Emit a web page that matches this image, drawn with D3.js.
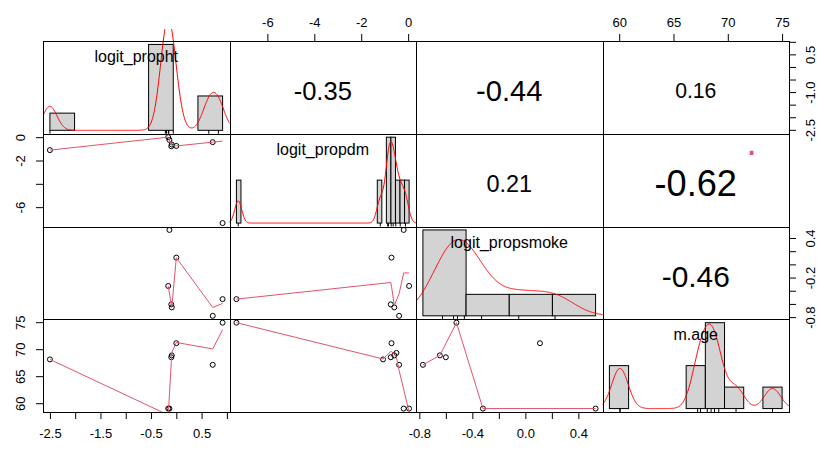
<!DOCTYPE html>
<html>
<head>
<meta charset="utf-8">
<title>Correlation chart</title>
<script src="https://d3js.org/d3.v7.min.js"></script>
<style>
    body { margin: 0; background-color: #fff; }
    svg text { font-family: "Liberation Sans", Arial, sans-serif; fill: #000; }
</style>
</head>
<body>
<svg width="817" height="450"></svg>
<script>
    // one entry per observation, null = missing
    var varNames = ["logit_propht", "logit_propdm", "logit_propsmoke", "m.age"];
    var propht    = [0.915, 0.0, -0.16, -0.137, -2.5, 0.72, -0.09, -0.10, null, null];
    var propdm    = [-7.32, -0.71, 0.04, -0.19, -1.07, -0.385, -0.59, -0.74, -0.50, null];
    var propsmoke = [-0.52, 0.11, -0.32, 0.53, null, -0.773, -0.645, -0.60, null, null];
    var mage      = [75.0, 71.2, 59.1, 59.1, 68.2, 67.2, 68.95, 68.6, 69.4, 67.5];

    // histogram breaks: start, end, step
    var breaksPropht = [-2.5, 1.0, 0.5];
    var breaksPropdm = [-7.4, 0.2, 0.2];
    var breaksPropsmoke = [-1.0, 1.0, 0.5];
    var breaksMage = [58, 76, 2];

    // correlations printed in the upper panels (row, col) and their p-value symbol
    var corPairs = [[0, 1], [0, 2], [0, 3], [1, 2], [1, 3], [2, 3]];
    var corValues = [-0.35, -0.44, 0.16, 0.21, -0.62, -0.46];
    var corSignif = ["", "", "", "", ".", ""];

    // axis ticks and which of them carry a label
    var tickVals = [[-2.5, -2, -1.5, -1, -0.5, 0, 0.5, 1], [-6, -4, -2, 0], [-0.8, -0.6, -0.4, -0.2, 0, 0.2, 0.4], [60, 65, 70, 75]];
    var xTickLabels = [[-2.5, -1.5, -0.5, 0.5], [-6, -4, -2, 0], [-0.8, -0.4, 0, 0.4], [60, 65, 70, 75]];
    var yTickLabels = [[-2.5, -1, 0.5], [-6, -2, 0], [-0.8, -0.2, 0.4], [60, 65, 70, 75]];
    var tickFormats = [".1f", "d", ".1f", "d"];

    var columns = [propht, propdm, propsmoke, mage];
    var breakSpecs = [breaksPropht, breaksPropdm, breaksPropsmoke, breaksMage];

    var svg = d3.select("svg");
    var x0 = 43, y0 = 41, pw = 186.5, ph = 92.75, nv = 4;

    function colX(j) { return x0 + j * pw; }
    function rowY(i) { return y0 + i * ph; }
    function clean(v) { return v.filter(function (d) { return d !== null; }); }
    function padded(ext) { var r = ext[1] - ext[0]; return [ext[0] - 0.04 * r, ext[1] + 0.04 * r]; }

    var xs = columns.map(function (c, j) {
        return d3.scaleLinear().domain(padded(d3.extent(clean(c)))).range([colX(j), colX(j + 1)]);
    });
    var ys = columns.map(function (c, i) {
        return d3.scaleLinear().domain(padded(d3.extent(clean(c)))).range([rowY(i + 1), rowY(i)]);
    });

    // R's lowess (clowess)
    function lowess(xIn, yIn, f, nsteps) {
        var idx = d3.range(xIn.length).sort(function (a, b) { return xIn[a] - xIn[b] || a - b; });
        var x = idx.map(function (i) { return xIn[i]; }), y = idx.map(function (i) { return yIn[i]; });
        var n = x.length, delta = 0.01 * (x[n - 1] - x[0]);
        var fit = new Array(n).fill(0), rw = new Array(n).fill(1), res = new Array(n).fill(0), w = new Array(n).fill(0);
        var ns = Math.max(2, Math.min(n, Math.floor(f * n + 1e-7)));

        function lowest(xv, nleft, nright, userw) {
            var range = x[n - 1] - x[0];
            var h = Math.max(xv - x[nleft], x[nright] - xv), h9 = 0.999 * h, h1 = 0.001 * h;
            var a = 0, j = nleft;
            while (j < n) {
                w[j] = 0;
                var r = Math.abs(x[j] - xv);
                if (r <= h9) {
                    w[j] = r <= h1 ? 1 : Math.pow(1 - Math.pow(r / h, 3), 3);
                    if (userw) w[j] *= rw[j];
                    a += w[j];
                } else if (x[j] > xv) break;
                j++;
            }
            var nrt = j - 1;
            if (a <= 0) return null;
            for (j = nleft; j <= nrt; j++) w[j] /= a;
            if (h > 0) {
                a = 0;
                for (j = nleft; j <= nrt; j++) a += w[j] * x[j];
                var b = xv - a, c = 0;
                for (j = nleft; j <= nrt; j++) c += w[j] * (x[j] - a) * (x[j] - a);
                if (Math.sqrt(c) > 0.001 * range) {
                    b /= c;
                    for (j = nleft; j <= nrt; j++) w[j] *= (b * (x[j] - a) + 1);
                }
            }
            var out = 0;
            for (j = nleft; j <= nrt; j++) out += w[j] * y[j];
            return out;
        }

        for (var iter = 1; iter <= nsteps + 1; iter++) {
            var nleft = 0, nright = ns - 1, last = -1, i = 0;
            for (;;) {
                if (nright < n - 1) {
                    var d1 = x[i] - x[nleft], d2 = x[nright + 1] - x[i];
                    if (d1 > d2) { nleft++; nright++; continue; }
                }
                var v = lowest(x[i], nleft, nright, iter > 1);
                fit[i] = v === null ? y[i] : v;
                if (last < i - 1) {
                    var denom = x[i] - x[last];
                    for (var j = last + 1; j < i; j++) {
                        var alpha = (x[j] - x[last]) / denom;
                        fit[j] = alpha * fit[i] + (1 - alpha) * fit[last];
                    }
                }
                last = i;
                var cut = x[last] + delta;
                for (i = last + 1; i < n; i++) {
                    if (x[i] > cut) break;
                    if (x[i] === x[last]) { fit[i] = fit[last]; last = i; }
                }
                i = Math.max(last + 1, i - 1);
                if (last >= n - 1) break;
            }
            for (i = 0; i < n; i++) res[i] = y[i] - fit[i];
            var sc = d3.sum(res, Math.abs) / n;
            if (iter > nsteps) break;
            var ar = res.map(Math.abs).sort(d3.ascending);
            var m1 = Math.floor(n / 2), cmad;
            if (n % 2 === 0) cmad = 3 * (ar[m1] + ar[n - m1 - 1]);
            else cmad = 6 * ar[m1];
            if (cmad < 1e-7 * sc) break;
            for (i = 0; i < n; i++) {
                var r = Math.abs(res[i]);
                rw[i] = r <= 0.001 * cmad ? 1 : r <= 0.999 * cmad ? Math.pow(1 - Math.pow(r / cmad, 2), 2) : 0;
            }
        }
        return x.map(function (v, k) { return [v, fit[k]]; });
    }

    function bwNrd0(v) {
        var s = v.slice().sort(d3.ascending);
        var hi = d3.deviation(s);
        var lo = Math.min(hi, (d3.quantile(s, 0.75) - d3.quantile(s, 0.25)) / 1.34);
        if (!lo) lo = hi || Math.abs(s[0]) || 1;
        return 0.9 * lo * Math.pow(s.length, -0.2);
    }

    function density(v) {
        var bw = bwNrd0(v), lo = d3.min(v) - 3 * bw, hi = d3.max(v) + 3 * bw;
        return d3.range(512).map(function (k) {
            var t = lo + (hi - lo) * k / 511;
            var s = d3.sum(v, function (d) { var z = (t - d) / bw; return Math.exp(-0.5 * z * z); });
            return [t, s / (v.length * bw * Math.sqrt(2 * Math.PI))];
        });
    }

    var defs = svg.append("defs");
    d3.range(nv).forEach(function (i) {
        d3.range(nv).forEach(function (j) {
            var extra = i === j ? 12 : 0;
            defs.append("clipPath").attr("id", "clip" + i + j)
                .append("rect")
                .attr("x", colX(j)).attr("y", rowY(i) - extra)
                .attr("width", pw).attr("height", ph + extra);
        });
    });

    // diagonal: histogram, density, rug, name
    columns.forEach(function (col, k) {
        var v = clean(col), spec = breakSpecs[k];
        var breaks = d3.range(Math.round((spec[1] - spec[0]) / spec[2]) + 1).map(function (m) { return +(spec[0] + m * spec[2]).toFixed(6); });
        var width = spec[2];
        var bins = d3.range(breaks.length - 1).map(function (b) {
            var cnt = v.filter(function (d) {
                return (d > breaks[b] || (b === 0 && d >= breaks[b])) && d <= breaks[b + 1];
            }).length;
            return { x0: breaks[b], x1: breaks[b + 1], dens: cnt / (v.length * width) };
        });
        var maxD = d3.max(bins, function (b) { return b.dens; });
        var hx = d3.scaleLinear().domain(padded([breaks[0], breaks[breaks.length - 1]])).range([colX(k), colX(k + 1)]);
        var hy = d3.scaleLinear().domain(padded([0, maxD])).range([rowY(k + 1), rowY(k)]);

        var g = svg.append("g");
        g.selectAll("rect").data(bins.filter(function (b) { return b.dens > 0; })).enter().append("rect")
            .attr("x", function (b) { return hx(b.x0); })
            .attr("y", function (b) { return hy(b.dens); })
            .attr("width", function (b) { return hx(b.x1) - hx(b.x0); })
            .attr("height", function (b) { return hy(0) - hy(b.dens); })
            .attr("fill", "#d3d3d3").attr("stroke", "#000").attr("stroke-width", 1);

        g.append("path").datum(density(v))
            .attr("clip-path", "url(#clip" + k + k + ")")
            .attr("fill", "none").attr("stroke", "#ff0000").attr("stroke-width", 1)
            .attr("d", d3.line().x(function (d) { return hx(d[0]); }).y(function (d) { return hy(d[1]); }));

        g.selectAll("line.rug").data(v).enter().append("line")
            .attr("x1", function (d) { return hx(d); }).attr("x2", function (d) { return hx(d); })
            .attr("y1", rowY(k + 1)).attr("y2", rowY(k + 1) - 3.5)
            .attr("stroke", "#000").attr("stroke-width", 1);

        g.append("text")
            .attr("x", colX(k) + pw / 2).attr("y", rowY(k) + 21)
            .attr("text-anchor", "middle").attr("font-size", 16)
            .text(varNames[k]);
    });

    // lower panels: points + lowess smooth
    d3.range(nv).forEach(function (i) {
        d3.range(i).forEach(function (j) {
            var pts = [];
            columns[j].forEach(function (d, n) {
                if (d !== null && columns[i][n] !== null) pts.push([d, columns[i][n]]);
            });
            var g = svg.append("g").attr("clip-path", "url(#clip" + i + j + ")");
            g.selectAll("circle").data(pts).enter().append("circle")
                .attr("cx", function (d) { return xs[j](d[0]); })
                .attr("cy", function (d) { return ys[i](d[1]); })
                .attr("r", 2.5).attr("fill", "none").attr("stroke", "#000").attr("stroke-width", 1);
            var sm = lowess(pts.map(function (d) { return d[0]; }), pts.map(function (d) { return d[1]; }), 2 / 3, 3);
            g.append("path").datum(sm)
                .attr("fill", "none").attr("stroke", "#df536b").attr("stroke-width", 1)
                .attr("d", d3.line().x(function (d) { return xs[j](d[0]); }).y(function (d) { return ys[i](d[1]); }));
        });
    });

    // upper panels: correlation text sized by |r|
    corPairs.forEach(function (p, n) {
        var i = p[0], j = p[1], r = corValues[n];
        var cx = colX(j) + pw / 2, cy = rowY(i) + ph / 2;
        var txt = svg.append("text").attr("text-anchor", "middle").attr("font-size", 10)
            .text(d3.format(".2f")(r).replace("\u2212", "-"));
        var len10 = txt.node().getComputedTextLength();
        var base = 10 * 0.625 * pw / len10;
        var fs = base * (Math.abs(r) + 0.3) / 1.3;
        txt.attr("font-size", fs).attr("x", cx).attr("y", cy + 0.36 * fs + 3);
        if (corSignif[n]) {
            var ds = base * 0.75;
            svg.append("text").attr("text-anchor", "middle").attr("font-size", ds)
                .style("fill", "#df536b")
                .attr("x", colX(j) + 0.8 * pw).attr("y", rowY(i) + 0.2 * ph + 0.06 * ds)
                .text(corSignif[n]);
        }
    });

    // panel borders
    d3.range(nv).forEach(function (i) {
        d3.range(nv).forEach(function (j) {
            svg.append("rect")
                .attr("x", Math.round(colX(j)) + 0.5).attr("y", Math.round(rowY(i)) + 0.5)
                .attr("width", Math.round(colX(j + 1)) - Math.round(colX(j)))
                .attr("height", Math.round(rowY(i + 1)) - Math.round(rowY(i)))
                .attr("fill", "none").attr("stroke", "#000").attr("stroke-width", 1);
        });
    });

    function fmt(k, shown) {
        var f = d3.format(tickFormats[k]);
        return function (d) {
            return shown.some(function (s) { return Math.abs(s - d) < 1e-9; }) ? f(d).replace("\u2212", "-") : "";
        };
    }

    // x axes: bottom for columns 1 and 3, top for 2 and 4
    xs.forEach(function (sc, j) {
        var bottom = j % 2 === 0;
        var ax = (bottom ? d3.axisBottom(sc) : d3.axisTop(sc))
            .tickValues(tickVals[j]).tickSizeOuter(0).tickSize(7).tickPadding(bottom ? 10 : 7)
            .tickFormat(fmt(j, xTickLabels[j]));
        var g = svg.append("g")
            .attr("transform", "translate(0," + (bottom ? rowY(nv) : rowY(0)) + ")")
            .call(ax);
        g.select(".domain").remove();
        g.selectAll("text").attr("font-size", 13).attr("font-family", "Liberation Sans, Arial, sans-serif").attr("fill", "#000");
        g.selectAll("line").attr("stroke", "#000");
    });

    // y axes: right for rows 1 and 3, left for 2 and 4
    ys.forEach(function (sc, i) {
        var rightSide = i % 2 === 0;
        var ax = (rightSide ? d3.axisRight(sc) : d3.axisLeft(sc))
            .tickValues(tickVals[i]).tickSizeOuter(0).tickSize(7)
            .tickFormat(fmt(i, yTickLabels[i]));
        var g = svg.append("g")
            .attr("transform", "translate(" + (rightSide ? colX(nv) : colX(0)) + ",0)")
            .call(ax);
        g.select(".domain").remove();
        g.selectAll("line").attr("stroke", "#000");
        g.selectAll(".tick").attr("transform", null);
        g.selectAll(".tick line").attr("y1", function (d) { return sc(d); }).attr("y2", function (d) { return sc(d); });
        g.selectAll(".tick text")
            .attr("font-size", 13).attr("font-family", "Liberation Sans, Arial, sans-serif").attr("fill", "#000")
            .attr("dy", null).attr("x", null).attr("y", null)
            .attr("text-anchor", "middle")
            .attr("transform", function (d) {
                var tx = rightSide ? 26 : -18;
                return "translate(" + tx + "," + sc(d) + ") rotate(-90)";
            });
    });
</script>
</body>
</html>
